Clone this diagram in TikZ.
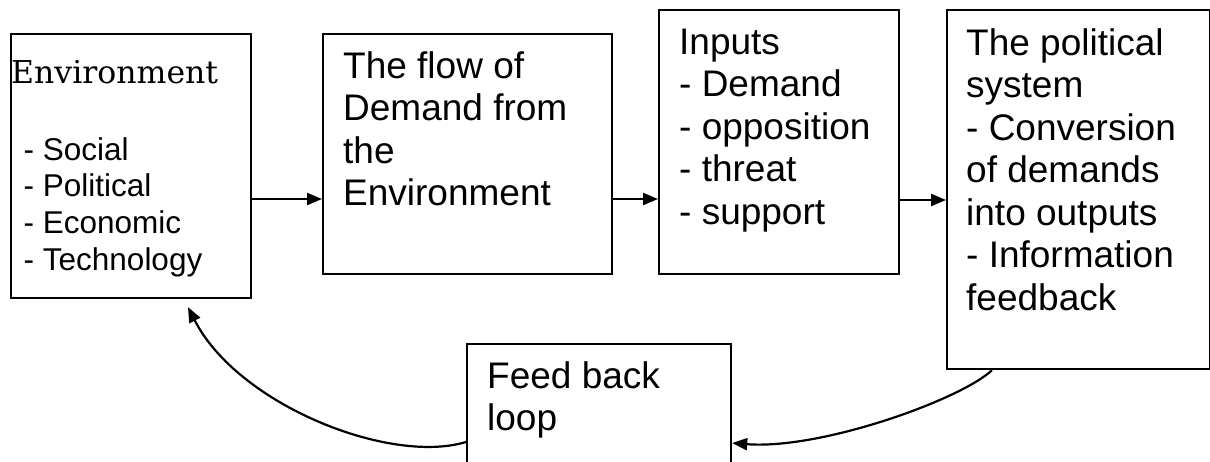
\documentclass[tikz,border=0pt]{standalone}
\usepackage{fontspec}
\setmainfont{Liberation Sans}
\newfontfamily\envserif{DejaVu Serif}
\usetikzlibrary{arrows.meta,calc}
\tikzset{
  box/.style={draw=black, line width=2.2pt, fill=none, inner sep=0pt, anchor=north west},
  bigtext/.style={inner sep=0pt, anchor=north west, align=left, font=\fontsize{37}{42.5}\selectfont},
  listtext/.style={inner sep=0pt, anchor=north west, align=left, font=\fontsize{31.5}{36.7}\selectfont},
  arr/.style={line width=2.2pt, -{Triangle[length=15pt,width=12pt]}}
}
\begin{document}
\begin{tikzpicture}[x=1pt,y=-1pt]
\useasboundingbox (0,0) rectangle (1210,461);
\clip (0,0) rectangle (1210,461);
% boxes
\node[box, minimum width=240pt, minimum height=264pt] (env) at (10,33) {};
\node[box, minimum width=289pt, minimum height=240pt] (flow) at (322,33) {};
\node[box, minimum width=240pt, minimum height=264pt] (inp) at (658,9) {};
\node[box, minimum width=263pt, minimum height=359pt] (pol) at (946,9) {};
\node[box, minimum width=264pt, minimum height=180pt] (fb) at (466,343) {};
% texts
\node[inner sep=0pt, anchor=base west, font=\envserif\fontsize{31.5}{36}\selectfont] (envt) at (11,83) {Environment};
\node[listtext] (envl) at (23.5,134.3) {\strut- Social\\- Political\\- Economic\\- Technology};
\node[bigtext] (flowt) at (343,48.25) {\strut The flow of\\Demand from\\the\\Environment};
\node[bigtext] (inpt) at (679,24.25) {\strut Inputs\\- Demand\\- opposition\\- threat\\- support};
\node[bigtext] (polt) at (966,25.25) {\strut The political\\system\\- Conversion\\of demands\\into outputs\\- Information\\feedback};
\node[bigtext] (fbt) at (487,358.25) {\strut Feed back\\loop};
% straight arrows
\coordinate (a1) at ([yshift=-166pt]env.north east);
\draw[arr] (a1) -- (a1 -| flow.west);
\coordinate (a2) at ([yshift=-166pt]flow.north east);
\draw[arr] (a2) -- (a2 -| inp.west);
\coordinate (a3) at ([yshift=-191pt]inp.north east);
\draw[arr] (a3) -- (a3 -| pol.west);
% curved feedback arrows
\coordinate (c1s) at ([xshift=46pt]pol.south west);
\coordinate (c1e) at ([yshift=-100pt]fb.north east);
\draw[arr] (c1s) .. controls (960,400) and (820,450) .. (c1e);
\coordinate (c2s) at ([yshift=-99pt]fb.north west);
\coordinate (c2e) at ([xshift=178pt,yshift=-8pt]env.south west);
\draw[arr] (c2s) .. controls (390,465) and (238,405) .. (c2e);
\end{tikzpicture}
\end{document}
